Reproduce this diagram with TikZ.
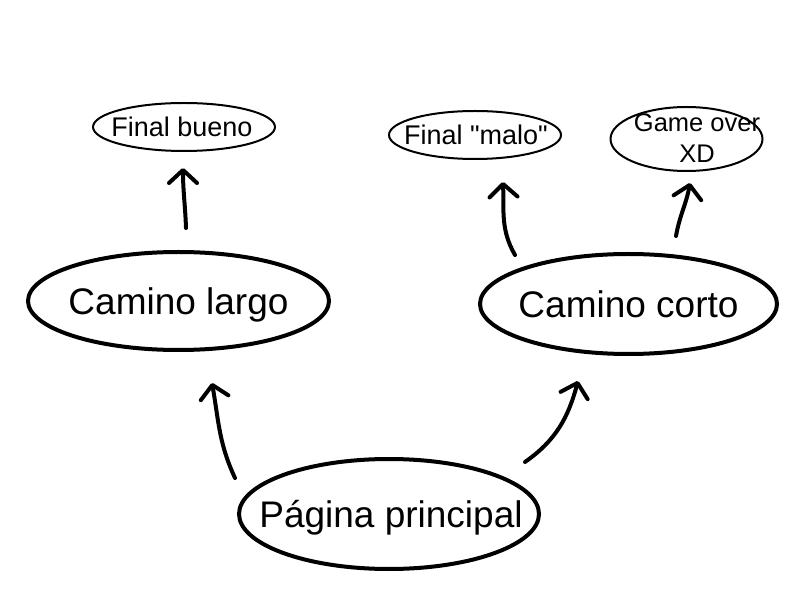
\documentclass[tikz,border=0pt]{standalone}
\usepackage{fontspec}
\setmainfont{Liberation Sans}
\usetikzlibrary{shapes.geometric,arrows.meta}
\tikzset{
  smallnode/.style={ellipse, inner sep=0pt, align=center, text depth=0pt,
     font=\fontsize{27}{32}\selectfont},
  bignode/.style={ellipse, inner sep=0pt, align=center, text depth=0pt,
     font=\fontsize{37}{40}\selectfont},
  thinrim/.style={draw=black, line width=2pt},
  thickrim/.style={draw=black, line width=4pt},
  shaft/.style={line width=4pt, line cap=round,
     -{Straight Barb[length=13pt, width=28pt, round]}},
}
\begin{document}
\begin{tikzpicture}[x=1pt,y=1pt]
\useasboundingbox (0,0) rectangle (800,600);
\fill[white] (0,0) rectangle (800,600);

\node[smallnode] (fb) at (182,473) {Final bueno};
\node[smallnode] (fm) at (476,465) {Final \textquotedbl malo\textquotedbl};
\node[smallnode, font=\fontsize{25.5}{31}\selectfont] (go) at (697,462) {Game over\\XD};
\node[bignode] (cl) at (178.5,299) {Camino largo};
\node[bignode] (cc) at (628.5,296) {Camino corto};
\node[bignode] (pp) at (391,86) {Página principal};

\draw[thinrim] ([xshift=2]fb.center) ellipse [x radius=91, y radius=24];
\draw[thinrim] ([xshift=-1]fm.center) ellipse [x radius=86, y radius=24];
\draw[thinrim] ([shift={(-10.5,-1)}]go.center) ellipse [x radius=76, y radius=32];
\draw[thickrim] (cl.center) ellipse [x radius=150.5, y radius=49];
\draw[thickrim] (cc.center) ellipse [x radius=148.5, y radius=50];
\draw[thickrim] ([xshift=-2]pp.center) ellipse [x radius=150, y radius=55];

\draw[shaft] ([shift={(7.5,73)}]cl.center) to[out=92,in=-90] ([shift={(1,-41)}]fb.center);
\draw[shaft] ([shift={(-156,36)}]pp.center) to[out=115,in=-80] ([shift={(33.5,-82)}]cl.center);
\draw[shaft] ([shift={(134,52)}]pp.center) to[out=35,in=-105] ([shift={(-50.5,-77)}]cc.center);
\draw[shaft] ([shift={(-113.5,49)}]cc.center) to[out=120,in=-88] ([shift={(27,-47)}]fm.center);
\draw[shaft] ([shift={(47.5,68)}]cc.center) to[out=80,in=-100] ([shift={(-7,-45)}]go.center);
\end{tikzpicture}
\end{document}
